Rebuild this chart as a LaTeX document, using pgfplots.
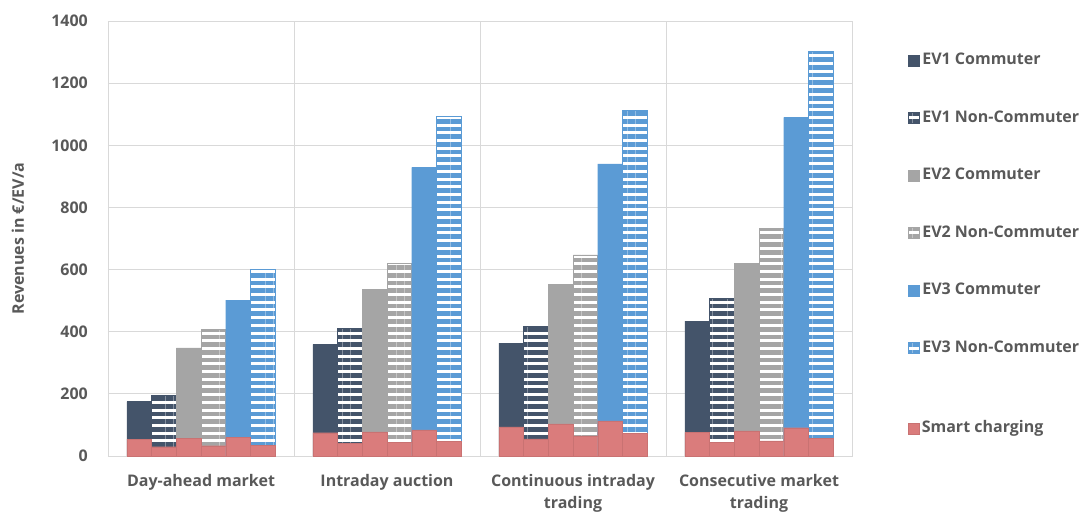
\documentclass[border=0pt]{standalone}
\usepackage{fontspec}
\setmainfont{Open Sans}
\usepackage{pgfplots}
\usepackage{pgfplotstable}
\pgfplotsset{compat=1.18}
\usetikzlibrary{patterns.meta}
\definecolor{evone}{HTML}{44546A}
\definecolor{evtwo}{HTML}{A5A5A5}
\definecolor{evthree}{HTML}{5B9BD5}
\definecolor{smart}{HTML}{DA7C7C}
\definecolor{gridc}{HTML}{D9D9D9}
\definecolor{txt}{HTML}{595959}

\pgfplotstableread{
x a b c d e f sa sb sc sd se sf
0 175 196 348 407 502 601 54 30 56 33 60 34
1 359 411 536 620 929 1092 75 41 78 43 84 48
2 363 416 553 647 940 1111 94 55 103 65 113 73
3 434 506 620 731 1090 1303 76 43 81 49 91 56
}\data

\pgfplotsset{
  sqlegend/.style={legend image code/.code={\draw[##1] (0pt,-5.5pt) rectangle (11pt,5.5pt);}},
  bcommon/.style={ybar, bar width=24.7pt, sqlegend},
  solidbar/.style={bcommon, fill=#1, draw=#1, line width=0.3pt},
  hatchbar/.style={bcommon, fill=white, draw=#1, line width=0.8pt,
     postaction={pattern={Lines[angle=0,distance=7.7pt,line width=4.7pt]}, pattern color=#1}},
  redbar/.style={bcommon, fill=smart, draw=smart!92!black, line width=0.3pt},
  base/.style={
    scale only axis, width=744pt, height=435pt,
    at={(108pt,58pt)}, anchor=south west,
    xmin=-0.5, xmax=3.5, ymin=0, ymax=1400,
  },
}

\begin{document}
\begin{tikzpicture}
\useasboundingbox (0,0) rectangle (1091pt,514pt);
\begin{axis}[base,
  font=\fontsize{16}{22}\selectfont\bfseries,
  axis line style={gridc, line width=0.8pt},
  xtick={0,1,2,3},
  xticklabels={Day-ahead market, Intraday auction, {Continuous intraday\\trading}, {Consecutive market\\trading}},
  xticklabel style={align=center, inner sep=0pt, yshift=-18pt, text=txt},
  minor xtick={0.5,1.5,2.5},
  xminorgrids, minor grid style={gridc, line width=0.8pt},
  ytick={0,200,...,1400},
  ymajorgrids, major grid style={gridc, line width=0.8pt},
  yticklabel style={inner sep=0pt, xshift=-20pt, text=txt},
  major tick length=0pt, minor tick length=0pt,
  /pgf/number format/1000 sep={},
  /pgf/number format/assume math mode=true,
  ylabel={Revenues in €/EV/a},
  ylabel style={at={(axis description cs:-0.121,0.5)}, anchor=center, text=txt},
  legend cell align=left,
  legend style={draw=none, fill=none, at={(1.075,0.933)}, anchor=north west,
     row sep=37pt, inner sep=0pt, text=txt,
     nodes={inner sep=2.5pt, text height=12pt, text depth=3.5pt}},
]
\addplot[solidbar=evone, bar shift=-61.75pt] table[x=x,y=a]{\data};
\addlegendentry{EV1 Commuter}
\addplot[hatchbar=evone, bar shift=-37.05pt] table[x=x,y=b]{\data};
\addlegendentry{EV1 Non-Commuter}
\addplot[solidbar=evtwo, bar shift=-12.35pt] table[x=x,y=c]{\data};
\addlegendentry{EV2 Commuter}
\addplot[hatchbar=evtwo, bar shift=12.35pt] table[x=x,y=d]{\data};
\addlegendentry{EV2 Non-Commuter}
\addplot[solidbar=evthree, bar shift=37.05pt] table[x=x,y=e]{\data};
\addlegendentry{EV3 Commuter}
\addplot[hatchbar=evthree, bar shift=61.75pt] table[x=x,y=f]{\data};
\addlegendentry{EV3 Non-Commuter}
\end{axis}
\begin{axis}[base, hide axis,
  font=\fontsize{16}{22}\selectfont\bfseries,
  legend cell align=left,
  legend style={draw=none, fill=none, at={(1.075,0.064)}, anchor=west,
     inner sep=0pt, text=txt,
     nodes={inner sep=2.5pt, text height=12pt, text depth=3.5pt}},
]
\addplot[redbar, bar shift=-61.75pt] table[x=x,y=sa]{\data};
\addlegendentry{Smart charging}
\addplot[redbar, bar shift=-37.05pt, forget plot] table[x=x,y=sb]{\data};
\addplot[redbar, bar shift=-12.35pt, forget plot] table[x=x,y=sc]{\data};
\addplot[redbar, bar shift=12.35pt, forget plot] table[x=x,y=sd]{\data};
\addplot[redbar, bar shift=37.05pt, forget plot] table[x=x,y=se]{\data};
\addplot[redbar, bar shift=61.75pt, forget plot] table[x=x,y=sf]{\data};
\end{axis}
\end{tikzpicture}
\end{document}
